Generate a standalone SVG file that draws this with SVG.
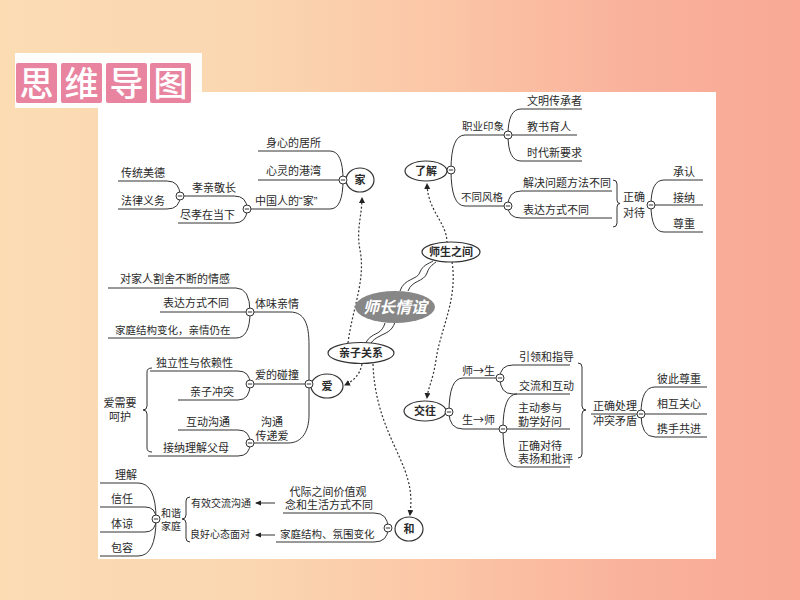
<svg xmlns="http://www.w3.org/2000/svg" width="800" height="600" viewBox="0 0 800 600">
<defs>
<linearGradient id="bg" x1="0" y1="0" x2="1" y2="0">
<stop offset="0" stop-color="#fbdcb3"/>
<stop offset="0.3" stop-color="#fad7b1"/>
<stop offset="0.55" stop-color="#fbc6a7"/>
<stop offset="0.8" stop-color="#f9b19b"/>
<stop offset="1" stop-color="#f9a995"/>
</linearGradient>
<marker id="ah" viewBox="0 0 6 6" refX="5" refY="3" markerWidth="6" markerHeight="6" orient="auto" markerUnits="userSpaceOnUse">
<path d="M0,0 L6,3 L0,6 Z" fill="#222"/>
</marker>
<marker id="la" viewBox="0 0 6 6" refX="5" refY="3" markerWidth="6" markerHeight="6" orient="auto" markerUnits="userSpaceOnUse">
<path d="M0,0.5 L6,3 L0,5.5 Z" fill="#222"/>
</marker>
<symbol id="minus" overflow="visible">
<circle cx="0" cy="0" r="4" fill="#fff" stroke="#333" stroke-width="1"/>
<line x1="-2.2" y1="0" x2="2.2" y2="0" stroke="#333" stroke-width="1"/>
</symbol>
</defs>
<style>
text{font-family:"Liberation Sans","Noto Sans CJK SC","Noto Sans CJK JP",sans-serif;fill:#2a2a2a;font-size:11px}
.n{font-weight:bold;text-anchor:middle}
.m{text-anchor:middle}
.s{font-size:10px}
.cjk{font-family:"Noto Sans CJK SC","Noto Sans CJK JP",sans-serif}
.br{fill:none;stroke:#333;stroke-width:1}
.dash{fill:none;stroke:#333;stroke-width:1.2;stroke-dasharray:2 2;marker-end:url(#ah)}
.node{fill:#fff;stroke:#333;stroke-width:1.2}
.tile{fill:#e8849f}
.tt{font-size:34px;fill:#fff;text-anchor:middle;font-weight:500}
</style>
<rect x="0" y="0" width="800" height="600" fill="url(#bg)"/>
<rect x="15" y="53" width="187" height="55" fill="#fdfdfb"/>
<rect x="98" y="92" width="618" height="467" fill="#fff"/>
<g id="title">
<rect class="tile" x="16" y="63" width="41" height="40" rx="2"/>
<rect class="tile" x="61" y="63" width="41" height="40" rx="2"/>
<rect class="tile" x="106" y="63" width="41" height="40" rx="2"/>
<rect class="tile" x="150" y="63" width="41" height="40" rx="2"/>
<text class="tt" x="36.5" y="96">思</text>
<text class="tt" x="81.5" y="96">维</text>
<text class="tt" x="126.5" y="96">导</text>
<text class="tt" x="170.5" y="96">图</text>
</g>
<g id="connectors">
<path class="br" d="M258,151 H330 Q343,151 343,180"/>
<path class="br" d="M258,180 H343"/>
<path class="br" d="M247,209 H330 Q343,209 343,180"/>
<path class="br" d="M180,196 H234 Q247,196 247,209"/>
<path class="br" d="M178,223 H234 Q247,223 247,209"/>
<path class="br" d="M118,181 H167 Q180,181 180,196"/>
<path class="br" d="M118,209 H167 Q180,209 180,196"/>
<path class="br" d="M451,170 Q451,135 465,135 H508"/>
<path class="br" d="M451,170 Q451,206 465,206 H508"/>
<path class="br" d="M508,135 Q508,109 521,109 H582"/>
<path class="br" d="M508,135 H577"/>
<path class="br" d="M508,135 Q508,161 521,161 H582"/>
<path class="br" d="M508,206 Q508,191 521,191 H612"/>
<path class="br" d="M508,206 Q508,218 521,218 H612"/>
<path class="br" d="M613,180 Q617,180 617,184 V200 Q617,203.5 620,203.5 Q617,203.5 617,207 V223 Q617,227 613,227"/>
<path class="br" d="M651,205 Q651,180 664,180 H703"/>
<path class="br" d="M651,205 H703"/>
<path class="br" d="M651,205 Q651,232 664,232 H703"/>
<path class="br" d="M400,291 C404,278 418,280 420,272 C423,265 428,264 433,261"/>
<path class="br" d="M408,291 C412,280 424,282 427,273 C429,267 432,265 436,262"/>
<path class="br" d="M385,323 C382,333 376,333 372,336 C369,338 367,340 366,343"/>
<path class="br" d="M395,322 C392,332 385,333 380,336 C376,338 373,340 371,343"/>
<path class="br" d="M250,312 H290 C305,312 309,325 309,345 V384"/>
<path class="br" d="M250,384 H309"/>
<path class="br" d="M250,443 H288 C303,443 309,430 309,415 V384"/>
<path class="br" d="M108,288 H236 Q250,288 250,312"/>
<path class="br" d="M160,312 H250"/>
<path class="br" d="M108,338 H236 Q250,338 250,312"/>
<path class="br" d="M150,371 H238 Q250,371 250,384"/>
<path class="br" d="M178,400 H238 Q250,400 250,384"/>
<path class="br" d="M178,430 H238 Q250,430 250,443"/>
<path class="br" d="M148,456 H238 Q250,456 250,443"/>
<path class="br" d="M152,368 Q147,368 147,372 V406 Q147,410 143,410 Q147,410 147,414 V448 Q147,452 152,452"/>
<path class="br" d="M283,513 H374 Q388,513 388,528"/>
<path class="br" d="M276,542 H374 Q388,542 388,528"/>
<path class="br" d="M275,503 H256" marker-end="url(#la)"/>
<path class="br" d="M275,535 H256" marker-end="url(#la)"/>
<path class="br" d="M190,497 Q186,497 186,501 V515 Q186,519 182,519 Q186,519 186,523 V538 Q186,542 190,542"/>
<path class="br" d="M100,483 H138 Q156,483 156,519"/>
<path class="br" d="M100,507 H145 Q156,507 156,519"/>
<path class="br" d="M100,532 H145 Q156,532 156,519"/>
<path class="br" d="M100,556 H138 Q156,556 156,519"/>
<path class="br" d="M449,412 Q449,378 463,378 H500"/>
<path class="br" d="M449,412 Q449,429 463,429 H503"/>
<path class="br" d="M500,378 Q500,365 513,365 H570"/>
<path class="br" d="M500,378 Q500,394 513,394 H570"/>
<path class="br" d="M503,429 Q503,394 517,394"/>
<path class="br" d="M503,429 H570"/>
<path class="br" d="M503,429 Q503,467 517,467 H570"/>
<path class="br" d="M578,363 Q582,363 582,367 V406 Q582,410 586,410 Q582,410 582,414 V454 Q582,458 578,458"/>
<path class="br" d="M591,414 H641"/>
<path class="br" d="M641,414 Q641,387 655,387 H707"/>
<path class="br" d="M641,414 H707"/>
<path class="br" d="M641,414 Q641,437 655,437 H707"/>
<path class="dash" d="M348,343 C352,310 366,280 360,250 C356,230 362,215 362,198"/>
<path class="dash" d="M447,243 C447,222 428,212 427,184"/>
<path class="dash" d="M452,262 C458,300 440,330 436,360 C433,380 428,388 427,398"/>
<path class="dash" d="M362,364 C360,375 353,381 345,385"/>
<path class="dash" d="M373,364 C375,420 400,450 408,480 C412,495 411,505 410,515"/>
</g>
<g id="n-jia">
<ellipse class="node" cx="360" cy="180" rx="14" ry="12"/>
<text class="n" x="360" y="184">家</text>
<use href="#minus" x="343" y="180"/>
<use href="#minus" x="247" y="209"/>
<use href="#minus" x="180" y="196"/>
<text x="266" y="147">身心的居所</text>
<text x="266" y="175">心灵的港湾</text>
<text x="255" y="205">中国人的“家”</text>
<text x="192" y="192">孝亲敬长</text>
<text x="180" y="219">尽孝在当下</text>
<text x="121" y="177">传统美德</text>
<text x="121" y="205">法律义务</text>
</g>
<g id="n-liaojie">
<ellipse class="node" cx="426" cy="171" rx="21" ry="10"/>
<text class="n" x="426" y="175">了解</text>
<use href="#minus" x="451" y="170"/>
<use href="#minus" x="508" y="135"/>
<use href="#minus" x="508" y="206"/>
<use href="#minus" x="651" y="205"/>
<text x="462" y="130" style="font-size:10.5px">职业印象</text>
<text x="527" y="105">文明传承者</text>
<text x="527" y="131">教书育人</text>
<text x="527" y="157">时代新要求</text>
<text x="461" y="201" style="font-size:10.5px">不同风格</text>
<text x="523" y="187">解决问题方法不同</text>
<text x="523" y="214">表达方式不同</text>
<text x="623" y="201">正确</text>
<text x="623" y="217">对待</text>
<text x="673" y="176">承认</text>
<text x="673" y="202">接纳</text>
<text x="673" y="228">尊重</text>
</g>
<g id="n-center">
<ellipse cx="395" cy="307" rx="40" ry="16" fill="#878787"/>
<text class="n" x="395" y="313" style="fill:#fff;font-size:16px;font-style:italic">师长情谊</text>
</g>
<g id="n-shisheng">
<ellipse class="node" cx="451" cy="252" rx="29" ry="10"/>
<text class="n" x="451" y="256">师生之间</text>
</g>
<g id="n-qinzi">
<ellipse class="node" cx="361" cy="353" rx="33" ry="10.5"/>
<text class="n" x="361" y="357">亲子关系</text>
</g>
<g id="n-ai">
<ellipse class="node" cx="327" cy="386" rx="16" ry="12"/>
<text class="n" x="327" y="390">爱</text>
<use href="#minus" x="309" y="384"/>
<use href="#minus" x="250" y="312"/>
<use href="#minus" x="250" y="384"/>
<use href="#minus" x="250" y="443"/>
<text x="255" y="308">体味亲情</text>
<text x="120" y="283">对家人割舍不断的情感</text>
<text x="163" y="307">表达方式不同</text>
<text x="115" y="334" style="font-size:10.5px">家庭结构变化，亲情仍在</text>
<text x="255" y="379">爱的碰撞</text>
<text x="156" y="367">独立性与依赖性</text>
<text x="190" y="396">亲子冲突</text>
<text class="m" x="272" y="426">沟通</text>
<text class="m" x="272" y="440">传递爱</text>
<text x="186" y="426">互动沟通</text>
<text x="163" y="452">接纳理解父母</text>
<text class="m" x="120" y="407">爱需要</text>
<text class="m" x="120" y="421">呵护</text>
</g>
<g id="n-he">
<ellipse class="node" cx="409" cy="529" rx="14" ry="12"/>
<text class="n" x="409" y="533">和</text>
<use href="#minus" x="388" y="528"/>
<use href="#minus" x="156" y="519"/>
<text class="m" x="328" y="496">代际之间价值观</text>
<text class="m" x="329" y="509">念和生活方式不同</text>
<text x="280" y="538" style="font-size:10.5px">家庭结构、氛围变化</text>
<text class="s" x="191" y="507">有效交流沟通</text>
<text class="s" x="190" y="538">良好心态面对</text>
<text class="m s" x="171" y="517">和谐</text>
<text class="m s" x="171" y="530">家庭</text>
<text x="115" y="479">理解</text>
<text x="111" y="503">信任</text>
<text x="111" y="528">体谅</text>
<text x="111" y="552">包容</text>
</g>
<g id="n-jiaowang">
<ellipse class="node" cx="425" cy="411" rx="21" ry="10"/>
<text class="n" x="425" y="415">交往</text>
<use href="#minus" x="449" y="412"/>
<use href="#minus" x="500" y="378"/>
<use href="#minus" x="503" y="429"/>
<use href="#minus" x="641" y="414"/>
<text class="cjk" x="462" y="375">师→生</text>
<text x="519" y="361">引领和指导</text>
<text x="519" y="390">交流和互动</text>
<text class="cjk" x="462" y="424">生→师</text>
<text x="518" y="412">主动参与</text>
<text x="518" y="426">勤学好问</text>
<text x="518" y="450">正确对待</text>
<text x="518" y="463">表扬和批评</text>
<text x="593" y="410">正确处理</text>
<text x="593" y="425">冲突矛盾</text>
<text x="657" y="383">彼此尊重</text>
<text x="657" y="408">相互关心</text>
<text x="657" y="433">携手共进</text>
</g>
</svg>
